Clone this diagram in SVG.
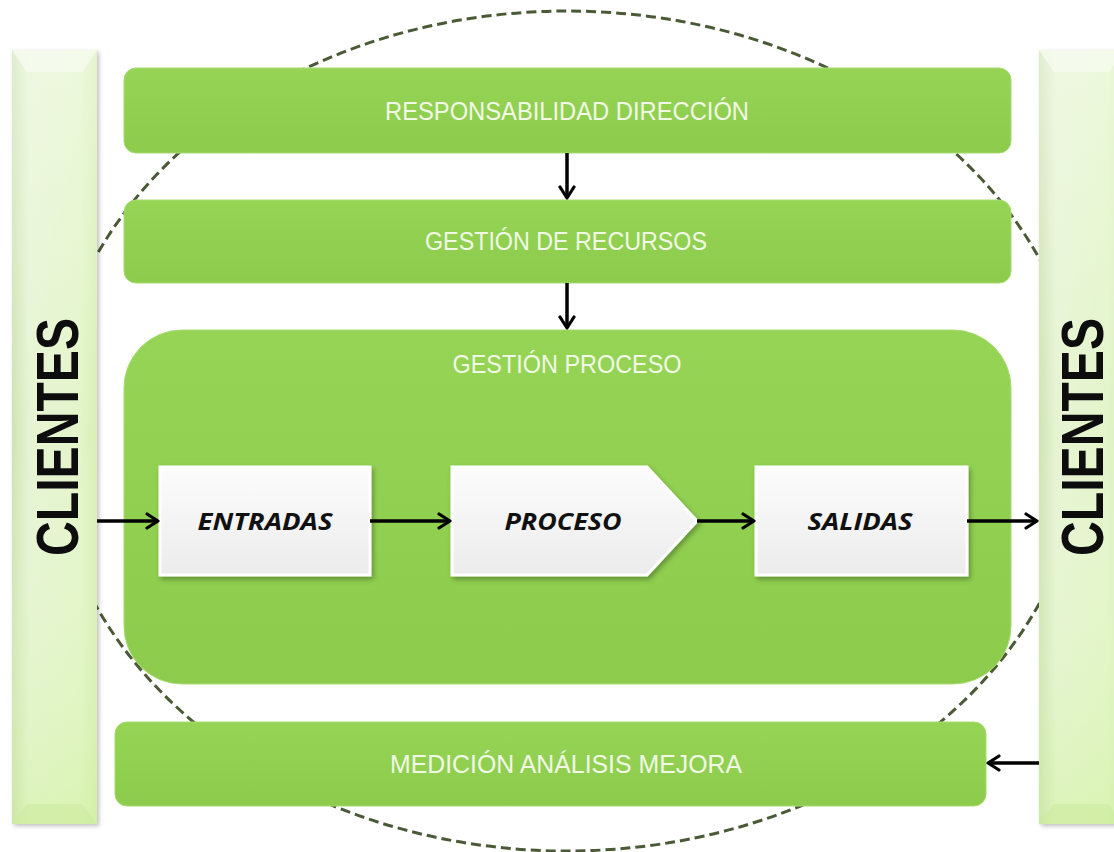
<svg xmlns="http://www.w3.org/2000/svg" width="1114" height="852" viewBox="0 0 1114 852">
<style>
.bar{fill:url(#gGreen);stroke:#a6dc70;stroke-width:1}
.lbl{font-family:"Liberation Sans","Open Sans",Arial,sans-serif;font-size:25px;fill:#f1f9e6;text-anchor:middle}
.box{fill:url(#gBox);stroke:#ffffff;stroke-width:3;filter:url(#sh)}
.blbl{font-family:"Open Sans","Liberation Sans",Arial,sans-serif;font-size:23px;font-weight:bold;font-style:italic;fill:#111;text-anchor:middle}
.cl{font-family:"Liberation Sans",Arial,sans-serif;font-size:60px;font-weight:bold;fill:#0d0d0d;text-anchor:middle}
.side{fill:url(#gSide);filter:url(#sh2)}
.conn{stroke:#000;stroke-width:3.5;fill:none;marker-end:url(#arr)}
</style>
<defs>
<linearGradient id="gGreen" x1="0" y1="0" x2="0" y2="1">
<stop offset="0" stop-color="#95d455"/>
<stop offset="1" stop-color="#8ccb4b"/>
</linearGradient>
<linearGradient id="gBox" x1="0" y1="0" x2="0" y2="1">
<stop offset="0" stop-color="#fcfcfc"/>
<stop offset="1" stop-color="#ececec"/>
</linearGradient>
<linearGradient id="gSide" x1="0" y1="0" x2="1" y2="0">
<stop offset="0" stop-color="#cfe3b4"/>
<stop offset="0.2" stop-color="#e6f4d3"/>
<stop offset="0.8" stop-color="#e3f5c9"/>
<stop offset="1" stop-color="#d8efb6"/>
</linearGradient>
<linearGradient id="gSideV" x1="0" y1="0" x2="0" y2="1">
<stop offset="0" stop-color="#ffffff" stop-opacity="0.35"/>
<stop offset="0.5" stop-color="#ffffff" stop-opacity="0"/>
<stop offset="1" stop-color="#c8f08a" stop-opacity="0.35"/>
</linearGradient>
<filter id="sh" x="-10%" y="-10%" width="125%" height="130%">
<feDropShadow dx="2" dy="3" stdDeviation="2.5" flood-color="#000" flood-opacity="0.3"/>
</filter>
<filter id="sh2" x="-20%" y="-5%" width="140%" height="110%">
<feDropShadow dx="2" dy="2" stdDeviation="2" flood-color="#000" flood-opacity="0.25"/>
</filter>
<marker id="arr" viewBox="0 0 16 18" refX="14" refY="9" markerWidth="16" markerHeight="18" markerUnits="userSpaceOnUse" orient="auto">
<path d="M3,2 L14,9 L3,16" fill="none" stroke="#000" stroke-width="3.2" stroke-linecap="round" stroke-linejoin="round"/>
</marker>
</defs>
<rect width="1114" height="852" fill="#ffffff"/>
<ellipse id="cycle" cx="567" cy="431" rx="518" ry="420" fill="none" stroke="#4a5a36" stroke-width="3" stroke-dasharray="10 5"/>
<g id="clientes-left">
<rect class="side" x="12" y="50" width="85" height="774"/>
<rect x="12" y="50" width="85" height="774" fill="url(#gSideV)"/>
<path d="M12,50 L97,50 L82,72 L27,72 Z" fill="#f6fbef" opacity="0.8"/>
<path d="M12,824 L97,824 L82,804 L27,804 Z" fill="#cdeb9f" opacity="0.6"/>
<text class="cl" transform="translate(78,437) rotate(-90)" textLength="238" lengthAdjust="spacingAndGlyphs">CLIENTES</text>
</g>
<g id="clientes-right">
<rect class="side" x="1039" y="50" width="85" height="774"/>
<rect x="1039" y="50" width="85" height="774" fill="url(#gSideV)"/>
<path d="M1039,50 L1124,50 L1109,72 L1054,72 Z" fill="#f6fbef" opacity="0.8"/>
<path d="M1039,824 L1124,824 L1109,804 L1054,804 Z" fill="#cdeb9f" opacity="0.6"/>
<text class="cl" transform="translate(1103,437) rotate(-90)" textLength="238" lengthAdjust="spacingAndGlyphs">CLIENTES</text>
</g>
<g id="responsabilidad">
<rect class="bar" x="124" y="68" width="887" height="85" rx="12"/>
<text class="lbl" x="567" y="120" textLength="364" lengthAdjust="spacingAndGlyphs">RESPONSABILIDAD DIRECCIÓN</text>
</g>
<g id="recursos">
<rect class="bar" x="124" y="200" width="887" height="83" rx="12"/>
<text class="lbl" x="566" y="250" textLength="282" lengthAdjust="spacingAndGlyphs">GESTIÓN DE RECURSOS</text>
</g>
<g id="proceso-gestion">
<rect class="bar" x="124" y="330" width="887" height="354" rx="58"/>
<text class="lbl" x="567" y="373" textLength="229" lengthAdjust="spacingAndGlyphs">GESTIÓN PROCESO</text>
</g>
<g id="medicion">
<rect class="bar" x="115" y="722" width="871" height="84" rx="12"/>
<text class="lbl" x="566" y="773" textLength="352" lengthAdjust="spacingAndGlyphs">MEDICIÓN ANÁLISIS MEJORA</text>
</g>
<g id="entradas">
<rect class="box" x="160" y="467" width="210" height="108"/>
<text class="blbl" x="265" y="530" textLength="135" lengthAdjust="spacingAndGlyphs">ENTRADAS</text>
</g>
<g id="proceso">
<path class="box" d="M452,467 L647,467 L697,521 L647,575 L452,575 Z"/>
<text class="blbl" x="563" y="530" textLength="117" lengthAdjust="spacingAndGlyphs">PROCESO</text>
</g>
<g id="salidas">
<rect class="box" x="756" y="467" width="211" height="108"/>
<text class="blbl" x="860" y="530" textLength="105" lengthAdjust="spacingAndGlyphs">SALIDAS</text>
</g>
<g id="connectors">
<line class="conn" x1="567" y1="153" x2="567" y2="198"/>
<line class="conn" x1="567" y1="283" x2="567" y2="328"/>
<line class="conn" x1="97" y1="521" x2="158" y2="521"/>
<line class="conn" x1="370" y1="521" x2="450" y2="521"/>
<line class="conn" x1="697" y1="521" x2="754" y2="521"/>
<line class="conn" x1="967" y1="521" x2="1037" y2="521"/>
<line class="conn" x1="1039" y1="763" x2="988" y2="763"/>
</g>
</svg>
